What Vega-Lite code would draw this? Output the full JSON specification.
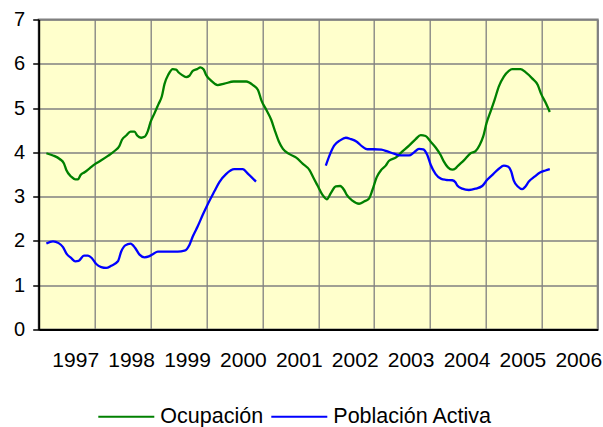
{
  "$schema": "https://vega.github.io/schema/vega-lite/v6.json",
  "autosize": "none",
  "width": 559,
  "height": 310,
  "padding": {"left": 38.7, "top": 19.5, "right": 5.3, "bottom": 97.5},
  "background": "white",
  "config": {
    "font": "Liberation Sans",
    "view": {"fill": "#FFFFCC", "stroke": "#808080", "strokeWidth": 2}
  },
  "datasets": {
    "rows": [
      {"t": 1997.137, "v": 3.98, "serie": "Ocupación", "seg": "o"},
      {"t": 1997.256, "v": 3.93, "serie": "Ocupación", "seg": "o"},
      {"t": 1997.375, "v": 3.85, "serie": "Ocupación", "seg": "o"},
      {"t": 1997.452, "v": 3.75, "serie": "Ocupación", "seg": "o"},
      {"t": 1997.494, "v": 3.60, "serie": "Ocupación", "seg": "o"},
      {"t": 1997.583, "v": 3.45, "serie": "Ocupación", "seg": "o"},
      {"t": 1997.655, "v": 3.39, "serie": "Ocupación", "seg": "o"},
      {"t": 1997.702, "v": 3.39, "serie": "Ocupación", "seg": "o"},
      {"t": 1997.750, "v": 3.49, "serie": "Ocupación", "seg": "o"},
      {"t": 1997.821, "v": 3.55, "serie": "Ocupación", "seg": "o"},
      {"t": 1997.911, "v": 3.64, "serie": "Ocupación", "seg": "o"},
      {"t": 1998.000, "v": 3.73, "serie": "Ocupación", "seg": "o"},
      {"t": 1998.119, "v": 3.82, "serie": "Ocupación", "seg": "o"},
      {"t": 1998.238, "v": 3.92, "serie": "Ocupación", "seg": "o"},
      {"t": 1998.357, "v": 4.03, "serie": "Ocupación", "seg": "o"},
      {"t": 1998.446, "v": 4.15, "serie": "Ocupación", "seg": "o"},
      {"t": 1998.488, "v": 4.28, "serie": "Ocupación", "seg": "o"},
      {"t": 1998.565, "v": 4.38, "serie": "Ocupación", "seg": "o"},
      {"t": 1998.643, "v": 4.47, "serie": "Ocupación", "seg": "o"},
      {"t": 1998.714, "v": 4.47, "serie": "Ocupación", "seg": "o"},
      {"t": 1998.762, "v": 4.38, "serie": "Ocupación", "seg": "o"},
      {"t": 1998.833, "v": 4.33, "serie": "Ocupación", "seg": "o"},
      {"t": 1998.893, "v": 4.35, "serie": "Ocupación", "seg": "o"},
      {"t": 1998.952, "v": 4.48, "serie": "Ocupación", "seg": "o"},
      {"t": 1999.000, "v": 4.68, "serie": "Ocupación", "seg": "o"},
      {"t": 1999.071, "v": 4.88, "serie": "Ocupación", "seg": "o"},
      {"t": 1999.143, "v": 5.09, "serie": "Ocupación", "seg": "o"},
      {"t": 1999.202, "v": 5.26, "serie": "Ocupación", "seg": "o"},
      {"t": 1999.250, "v": 5.54, "serie": "Ocupación", "seg": "o"},
      {"t": 1999.321, "v": 5.76, "serie": "Ocupación", "seg": "o"},
      {"t": 1999.399, "v": 5.88, "serie": "Ocupación", "seg": "o"},
      {"t": 1999.458, "v": 5.87, "serie": "Ocupación", "seg": "o"},
      {"t": 1999.500, "v": 5.81, "serie": "Ocupación", "seg": "o"},
      {"t": 1999.560, "v": 5.75, "serie": "Ocupación", "seg": "o"},
      {"t": 1999.637, "v": 5.70, "serie": "Ocupación", "seg": "o"},
      {"t": 1999.696, "v": 5.73, "serie": "Ocupación", "seg": "o"},
      {"t": 1999.756, "v": 5.84, "serie": "Ocupación", "seg": "o"},
      {"t": 1999.833, "v": 5.88, "serie": "Ocupación", "seg": "o"},
      {"t": 1999.893, "v": 5.92, "serie": "Ocupación", "seg": "o"},
      {"t": 1999.952, "v": 5.87, "serie": "Ocupación", "seg": "o"},
      {"t": 1999.994, "v": 5.75, "serie": "Ocupación", "seg": "o"},
      {"t": 2000.083, "v": 5.62, "serie": "Ocupación", "seg": "o"},
      {"t": 2000.202, "v": 5.52, "serie": "Ocupación", "seg": "o"},
      {"t": 2000.321, "v": 5.55, "serie": "Ocupación", "seg": "o"},
      {"t": 2000.488, "v": 5.60, "serie": "Ocupación", "seg": "o"},
      {"t": 2000.619, "v": 5.60, "serie": "Ocupación", "seg": "o"},
      {"t": 2000.714, "v": 5.60, "serie": "Ocupación", "seg": "o"},
      {"t": 2000.833, "v": 5.52, "serie": "Ocupación", "seg": "o"},
      {"t": 2000.923, "v": 5.41, "serie": "Ocupación", "seg": "o"},
      {"t": 2000.982, "v": 5.18, "serie": "Ocupación", "seg": "o"},
      {"t": 2001.071, "v": 4.96, "serie": "Ocupación", "seg": "o"},
      {"t": 2001.161, "v": 4.73, "serie": "Ocupación", "seg": "o"},
      {"t": 2001.220, "v": 4.51, "serie": "Ocupación", "seg": "o"},
      {"t": 2001.298, "v": 4.24, "serie": "Ocupación", "seg": "o"},
      {"t": 2001.369, "v": 4.08, "serie": "Ocupación", "seg": "o"},
      {"t": 2001.488, "v": 3.96, "serie": "Ocupación", "seg": "o"},
      {"t": 2001.607, "v": 3.88, "serie": "Ocupación", "seg": "o"},
      {"t": 2001.726, "v": 3.74, "serie": "Ocupación", "seg": "o"},
      {"t": 2001.845, "v": 3.60, "serie": "Ocupación", "seg": "o"},
      {"t": 2001.917, "v": 3.42, "serie": "Ocupación", "seg": "o"},
      {"t": 2001.988, "v": 3.25, "serie": "Ocupación", "seg": "o"},
      {"t": 2002.077, "v": 3.04, "serie": "Ocupación", "seg": "o"},
      {"t": 2002.154, "v": 2.94, "serie": "Ocupación", "seg": "o"},
      {"t": 2002.226, "v": 3.08, "serie": "Ocupación", "seg": "o"},
      {"t": 2002.315, "v": 3.23, "serie": "Ocupación", "seg": "o"},
      {"t": 2002.392, "v": 3.24, "serie": "Ocupación", "seg": "o"},
      {"t": 2002.464, "v": 3.15, "serie": "Ocupación", "seg": "o"},
      {"t": 2002.511, "v": 3.04, "serie": "Ocupación", "seg": "o"},
      {"t": 2002.612, "v": 2.91, "serie": "Ocupación", "seg": "o"},
      {"t": 2002.731, "v": 2.84, "serie": "Ocupación", "seg": "o"},
      {"t": 2002.821, "v": 2.89, "serie": "Ocupación", "seg": "o"},
      {"t": 2002.910, "v": 2.96, "serie": "Ocupación", "seg": "o"},
      {"t": 2002.970, "v": 3.15, "serie": "Ocupación", "seg": "o"},
      {"t": 2003.047, "v": 3.44, "serie": "Ocupación", "seg": "o"},
      {"t": 2003.131, "v": 3.61, "serie": "Ocupación", "seg": "o"},
      {"t": 2003.208, "v": 3.70, "serie": "Ocupación", "seg": "o"},
      {"t": 2003.268, "v": 3.81, "serie": "Ocupación", "seg": "o"},
      {"t": 2003.387, "v": 3.88, "serie": "Ocupación", "seg": "o"},
      {"t": 2003.506, "v": 4.02, "serie": "Ocupación", "seg": "o"},
      {"t": 2003.625, "v": 4.15, "serie": "Ocupación", "seg": "o"},
      {"t": 2003.744, "v": 4.30, "serie": "Ocupación", "seg": "o"},
      {"t": 2003.833, "v": 4.39, "serie": "Ocupación", "seg": "o"},
      {"t": 2003.922, "v": 4.37, "serie": "Ocupación", "seg": "o"},
      {"t": 2004.012, "v": 4.24, "serie": "Ocupación", "seg": "o"},
      {"t": 2004.101, "v": 4.11, "serie": "Ocupación", "seg": "o"},
      {"t": 2004.190, "v": 3.94, "serie": "Ocupación", "seg": "o"},
      {"t": 2004.249, "v": 3.79, "serie": "Ocupación", "seg": "o"},
      {"t": 2004.321, "v": 3.66, "serie": "Ocupación", "seg": "o"},
      {"t": 2004.398, "v": 3.61, "serie": "Ocupación", "seg": "o"},
      {"t": 2004.458, "v": 3.64, "serie": "Ocupación", "seg": "o"},
      {"t": 2004.488, "v": 3.68, "serie": "Ocupación", "seg": "o"},
      {"t": 2004.606, "v": 3.82, "serie": "Ocupación", "seg": "o"},
      {"t": 2004.726, "v": 3.98, "serie": "Ocupación", "seg": "o"},
      {"t": 2004.815, "v": 4.03, "serie": "Ocupación", "seg": "o"},
      {"t": 2004.893, "v": 4.18, "serie": "Ocupación", "seg": "o"},
      {"t": 2004.952, "v": 4.36, "serie": "Ocupación", "seg": "o"},
      {"t": 2005.011, "v": 4.66, "serie": "Ocupación", "seg": "o"},
      {"t": 2005.083, "v": 4.92, "serie": "Ocupación", "seg": "o"},
      {"t": 2005.154, "v": 5.18, "serie": "Ocupación", "seg": "o"},
      {"t": 2005.232, "v": 5.49, "serie": "Ocupación", "seg": "o"},
      {"t": 2005.321, "v": 5.71, "serie": "Ocupación", "seg": "o"},
      {"t": 2005.410, "v": 5.84, "serie": "Ocupación", "seg": "o"},
      {"t": 2005.470, "v": 5.88, "serie": "Ocupación", "seg": "o"},
      {"t": 2005.619, "v": 5.88, "serie": "Ocupación", "seg": "o"},
      {"t": 2005.708, "v": 5.81, "serie": "Ocupación", "seg": "o"},
      {"t": 2005.827, "v": 5.67, "serie": "Ocupación", "seg": "o"},
      {"t": 2005.928, "v": 5.52, "serie": "Ocupación", "seg": "o"},
      {"t": 2005.988, "v": 5.32, "serie": "Ocupación", "seg": "o"},
      {"t": 2006.065, "v": 5.13, "serie": "Ocupación", "seg": "o"},
      {"t": 2006.143, "v": 4.91, "serie": "Ocupación", "seg": "o"},

      {"t": 1997.137, "v": 1.94, "serie": "Población Activa", "seg": "p1"},
      {"t": 1997.256, "v": 1.99, "serie": "Población Activa", "seg": "p1"},
      {"t": 1997.357, "v": 1.95, "serie": "Población Activa", "seg": "p1"},
      {"t": 1997.435, "v": 1.86, "serie": "Población Activa", "seg": "p1"},
      {"t": 1997.494, "v": 1.72, "serie": "Población Activa", "seg": "p1"},
      {"t": 1997.583, "v": 1.61, "serie": "Población Activa", "seg": "p1"},
      {"t": 1997.655, "v": 1.54, "serie": "Población Activa", "seg": "p1"},
      {"t": 1997.714, "v": 1.55, "serie": "Población Activa", "seg": "p1"},
      {"t": 1997.810, "v": 1.67, "serie": "Población Activa", "seg": "p1"},
      {"t": 1997.881, "v": 1.67, "serie": "Población Activa", "seg": "p1"},
      {"t": 1997.952, "v": 1.61, "serie": "Población Activa", "seg": "p1"},
      {"t": 1998.030, "v": 1.48, "serie": "Población Activa", "seg": "p1"},
      {"t": 1998.119, "v": 1.41, "serie": "Población Activa", "seg": "p1"},
      {"t": 1998.208, "v": 1.39, "serie": "Población Activa", "seg": "p1"},
      {"t": 1998.298, "v": 1.44, "serie": "Población Activa", "seg": "p1"},
      {"t": 1998.417, "v": 1.54, "serie": "Población Activa", "seg": "p1"},
      {"t": 1998.476, "v": 1.76, "serie": "Población Activa", "seg": "p1"},
      {"t": 1998.548, "v": 1.90, "serie": "Población Activa", "seg": "p1"},
      {"t": 1998.643, "v": 1.94, "serie": "Población Activa", "seg": "p1"},
      {"t": 1998.726, "v": 1.84, "serie": "Población Activa", "seg": "p1"},
      {"t": 1998.804, "v": 1.69, "serie": "Población Activa", "seg": "p1"},
      {"t": 1998.893, "v": 1.63, "serie": "Población Activa", "seg": "p1"},
      {"t": 1998.970, "v": 1.65, "serie": "Población Activa", "seg": "p1"},
      {"t": 1999.042, "v": 1.70, "serie": "Población Activa", "seg": "p1"},
      {"t": 1999.131, "v": 1.76, "serie": "Población Activa", "seg": "p1"},
      {"t": 1999.310, "v": 1.76, "serie": "Población Activa", "seg": "p1"},
      {"t": 1999.488, "v": 1.76, "serie": "Población Activa", "seg": "p1"},
      {"t": 1999.607, "v": 1.78, "serie": "Población Activa", "seg": "p1"},
      {"t": 1999.696, "v": 1.91, "serie": "Población Activa", "seg": "p1"},
      {"t": 1999.756, "v": 2.10, "serie": "Población Activa", "seg": "p1"},
      {"t": 1999.845, "v": 2.33, "serie": "Población Activa", "seg": "p1"},
      {"t": 1999.935, "v": 2.59, "serie": "Población Activa", "seg": "p1"},
      {"t": 2000.024, "v": 2.83, "serie": "Población Activa", "seg": "p1"},
      {"t": 2000.143, "v": 3.12, "serie": "Población Activa", "seg": "p1"},
      {"t": 2000.232, "v": 3.33, "serie": "Población Activa", "seg": "p1"},
      {"t": 2000.351, "v": 3.51, "serie": "Población Activa", "seg": "p1"},
      {"t": 2000.500, "v": 3.62, "serie": "Población Activa", "seg": "p1"},
      {"t": 2000.649, "v": 3.62, "serie": "Población Activa", "seg": "p1"},
      {"t": 2000.750, "v": 3.51, "serie": "Población Activa", "seg": "p1"},
      {"t": 2000.887, "v": 3.34, "serie": "Población Activa", "seg": "p1"},

      {"t": 2002.136, "v": 3.70, "serie": "Población Activa", "seg": "p2"},
      {"t": 2002.196, "v": 3.91, "serie": "Población Activa", "seg": "p2"},
      {"t": 2002.285, "v": 4.15, "serie": "Población Activa", "seg": "p2"},
      {"t": 2002.392, "v": 4.27, "serie": "Población Activa", "seg": "p2"},
      {"t": 2002.494, "v": 4.33, "serie": "Población Activa", "seg": "p2"},
      {"t": 2002.583, "v": 4.30, "serie": "Población Activa", "seg": "p2"},
      {"t": 2002.690, "v": 4.24, "serie": "Población Activa", "seg": "p2"},
      {"t": 2002.791, "v": 4.13, "serie": "Población Activa", "seg": "p2"},
      {"t": 2002.880, "v": 4.07, "serie": "Población Activa", "seg": "p2"},
      {"t": 2002.999, "v": 4.07, "serie": "Población Activa", "seg": "p2"},
      {"t": 2003.130, "v": 4.06, "serie": "Población Activa", "seg": "p2"},
      {"t": 2003.238, "v": 4.02, "serie": "Población Activa", "seg": "p2"},
      {"t": 2003.357, "v": 3.97, "serie": "Población Activa", "seg": "p2"},
      {"t": 2003.476, "v": 3.93, "serie": "Población Activa", "seg": "p2"},
      {"t": 2003.625, "v": 3.93, "serie": "Población Activa", "seg": "p2"},
      {"t": 2003.714, "v": 4.00, "serie": "Población Activa", "seg": "p2"},
      {"t": 2003.803, "v": 4.08, "serie": "Población Activa", "seg": "p2"},
      {"t": 2003.880, "v": 4.07, "serie": "Población Activa", "seg": "p2"},
      {"t": 2003.952, "v": 3.94, "serie": "Población Activa", "seg": "p2"},
      {"t": 2004.012, "v": 3.72, "serie": "Población Activa", "seg": "p2"},
      {"t": 2004.101, "v": 3.51, "serie": "Población Activa", "seg": "p2"},
      {"t": 2004.202, "v": 3.40, "serie": "Población Activa", "seg": "p2"},
      {"t": 2004.280, "v": 3.38, "serie": "Población Activa", "seg": "p2"},
      {"t": 2004.398, "v": 3.37, "serie": "Población Activa", "seg": "p2"},
      {"t": 2004.458, "v": 3.32, "serie": "Población Activa", "seg": "p2"},
      {"t": 2004.488, "v": 3.25, "serie": "Población Activa", "seg": "p2"},
      {"t": 2004.577, "v": 3.18, "serie": "Población Activa", "seg": "p2"},
      {"t": 2004.696, "v": 3.15, "serie": "Población Activa", "seg": "p2"},
      {"t": 2004.815, "v": 3.18, "serie": "Población Activa", "seg": "p2"},
      {"t": 2004.934, "v": 3.24, "serie": "Población Activa", "seg": "p2"},
      {"t": 2005.023, "v": 3.38, "serie": "Población Activa", "seg": "p2"},
      {"t": 2005.131, "v": 3.51, "serie": "Población Activa", "seg": "p2"},
      {"t": 2005.232, "v": 3.63, "serie": "Población Activa", "seg": "p2"},
      {"t": 2005.321, "v": 3.70, "serie": "Población Activa", "seg": "p2"},
      {"t": 2005.393, "v": 3.68, "serie": "Población Activa", "seg": "p2"},
      {"t": 2005.452, "v": 3.57, "serie": "Población Activa", "seg": "p2"},
      {"t": 2005.499, "v": 3.36, "serie": "Población Activa", "seg": "p2"},
      {"t": 2005.571, "v": 3.23, "serie": "Población Activa", "seg": "p2"},
      {"t": 2005.649, "v": 3.17, "serie": "Población Activa", "seg": "p2"},
      {"t": 2005.708, "v": 3.23, "serie": "Población Activa", "seg": "p2"},
      {"t": 2005.768, "v": 3.34, "serie": "Población Activa", "seg": "p2"},
      {"t": 2005.869, "v": 3.45, "serie": "Población Activa", "seg": "p2"},
      {"t": 2005.976, "v": 3.55, "serie": "Población Activa", "seg": "p2"},
      {"t": 2006.065, "v": 3.59, "serie": "Población Activa", "seg": "p2"},
      {"t": 2006.143, "v": 3.62, "serie": "Población Activa", "seg": "p2"}
    ]
  },
  "data": {"name": "rows"},
  "mark": {"type": "line", "strokeWidth": 2.3, "interpolate": "monotone"},
  "encoding": {
    "x": {
      "field": "t",
      "type": "quantitative",
      "scale": {"domain": [1997, 2007], "nice": false, "zero": false},
      "axis": {
        "title": null,
        "values": [1997, 1998, 1999, 2000, 2001, 2002, 2003, 2004, 2005, 2006, 2007],
        "labelExpr": "datum.value < 2007 ? format(datum.value, 'd') : ''",
        "labelOffset": 36.5,
        "labelPadding": 20,
        "labelFontSize": 21,
        "labelColor": "#000000",
        "labelOverlap": false,
        "labelBound": false,
        "labelFlush": false,
        "ticks": false,
        "domainColor": "#000000",
        "domainWidth": 2,
        "grid": true,
        "gridColor": "#808080",
        "gridWidth": 1.3,
        "gridOpacity": 1
      }
    },
    "y": {
      "field": "v",
      "type": "quantitative",
      "scale": {"domain": [0, 7], "nice": false},
      "axis": {
        "title": null,
        "values": [0, 1, 2, 3, 4, 5, 6, 7],
        "labelFontSize": 20,
        "labelColor": "#000000",
        "labelPadding": 8,
        "tickSize": 6,
        "tickColor": "#000000",
        "tickWidth": 1.5,
        "domainColor": "#000000",
        "domainWidth": 2,
        "grid": true,
        "gridColor": "#808080",
        "gridWidth": 1.3,
        "gridOpacity": 1
      }
    },
    "color": {
      "field": "serie",
      "type": "nominal",
      "scale": {"domain": ["Ocupación", "Población Activa"], "range": ["#008000", "#0000FF"]},
      "legend": {
        "title": null,
        "orient": "none",
        "direction": "horizontal",
        "legendX": 58.6,
        "legendY": 368,
        "padding": 0,
        "symbolType": "stroke",
        "symbolSize": 3136,
        "symbolStrokeWidth": 2,
        "labelFontSize": 21.5,
        "labelColor": "#000000",
        "labelOffset": 5,
        "columnPadding": 4
      }
    },
    "detail": {"field": "seg"}
  }
}
